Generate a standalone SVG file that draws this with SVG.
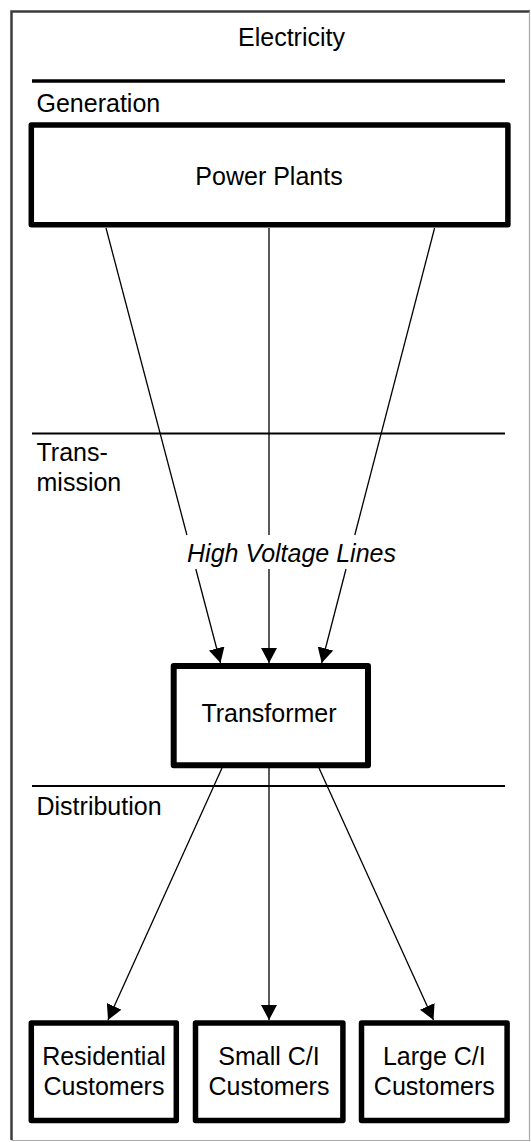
<svg xmlns="http://www.w3.org/2000/svg" width="531" height="1142" viewBox="0 0 531 1142">
  <style>
    .t { font-family: "Liberation Sans", Arial, sans-serif; font-size: 25px; fill: #000; }
    .c { text-anchor: middle; }
    .box { fill: #fff; stroke: #000; stroke-width: 5.5; stroke-linejoin: round; }
    .sep { stroke: #000; fill: none; }
    .con { stroke: #000; stroke-width: 1.3; fill: none; }
  </style>
  <defs>
    <marker id="arr" viewBox="0 -8 15 16" refX="15" refY="0" markerWidth="15" markerHeight="16" markerUnits="userSpaceOnUse" orient="auto">
      <path d="M0,-8 L15,0 L0,8 Z" fill="#000"/>
    </marker>
  </defs>
  <rect x="0" y="0" width="531" height="1142" fill="#fff"/>
  <g id="frame">
    <path d="M11.5,1140 L11.5,11.5 L530,11.5" fill="none" stroke="#3c3c3c" stroke-width="2.5"/>
    <path d="M529.5,11.5 L529.5,1140.5 L11.5,1140.5" fill="none" stroke="#a8a8a8" stroke-width="1.2"/>
  </g>
  <g id="title">
    <text class="t c" x="291.5" y="46">Electricity</text>
  </g>
  <g id="lanes">
    <line class="sep" x1="32" y1="81" x2="505" y2="81" stroke-width="3.5"/>
    <line class="sep" x1="32" y1="433.5" x2="505" y2="433.5" stroke-width="1.8"/>
    <line class="sep" x1="32" y1="786" x2="505" y2="786" stroke-width="1.8"/>
    <text class="t" x="36.5" y="112">Generation</text>
    <text class="t" x="36.5" y="461">Trans-</text>
    <text class="t" x="36.5" y="491">mission</text>
    <text class="t" x="36.5" y="815">Distribution</text>
  </g>
  <g id="connectors">
    <line class="con" x1="106" y1="228" x2="186.9" y2="535"/>
    <line class="con" x1="195.8" y1="569" x2="220.5" y2="663" marker-end="url(#arr)"/>
    <line class="con" x1="269" y1="228" x2="269" y2="535"/>
    <line class="con" x1="269" y1="569" x2="269" y2="663" marker-end="url(#arr)"/>
    <line class="con" x1="434.6" y1="228" x2="354.8" y2="535"/>
    <line class="con" x1="346" y1="569" x2="321.7" y2="663" marker-end="url(#arr)"/>
    <text class="t c" x="291.5" y="562" font-style="italic">High Voltage Lines</text>
    <line class="con" x1="222" y1="768" x2="108" y2="1020" marker-end="url(#arr)"/>
    <line class="con" x1="269" y1="768" x2="269" y2="1020" marker-end="url(#arr)"/>
    <line class="con" x1="319" y1="768" x2="433.5" y2="1020" marker-end="url(#arr)"/>
  </g>
  <g id="power-plants">
    <rect class="box" x="31.3" y="125" width="476.6" height="99.7"/>
    <text class="t c" x="269" y="184.5">Power Plants</text>
  </g>
  <g id="transformer">
    <rect class="box" x="173.7" y="666" width="194.3" height="99.3" style="stroke-width:6"/>
    <text class="t c" x="269" y="722">Transformer</text>
  </g>
  <g id="residential">
    <rect class="box" x="31.3" y="1023" width="145" height="97.5"/>
    <text class="t c" x="104" y="1064.5">Residential</text>
    <text class="t c" x="104" y="1095">Customers</text>
  </g>
  <g id="small-ci">
    <rect class="box" x="195.5" y="1023" width="147.4" height="97.5"/>
    <text class="t c" x="269" y="1064.5">Small C/I</text>
    <text class="t c" x="269" y="1095">Customers</text>
  </g>
  <g id="large-ci">
    <rect class="box" x="361.5" y="1023" width="145.6" height="97.5"/>
    <text class="t c" x="434.3" y="1064.5">Large C/I</text>
    <text class="t c" x="434.3" y="1095">Customers</text>
  </g>
</svg>
